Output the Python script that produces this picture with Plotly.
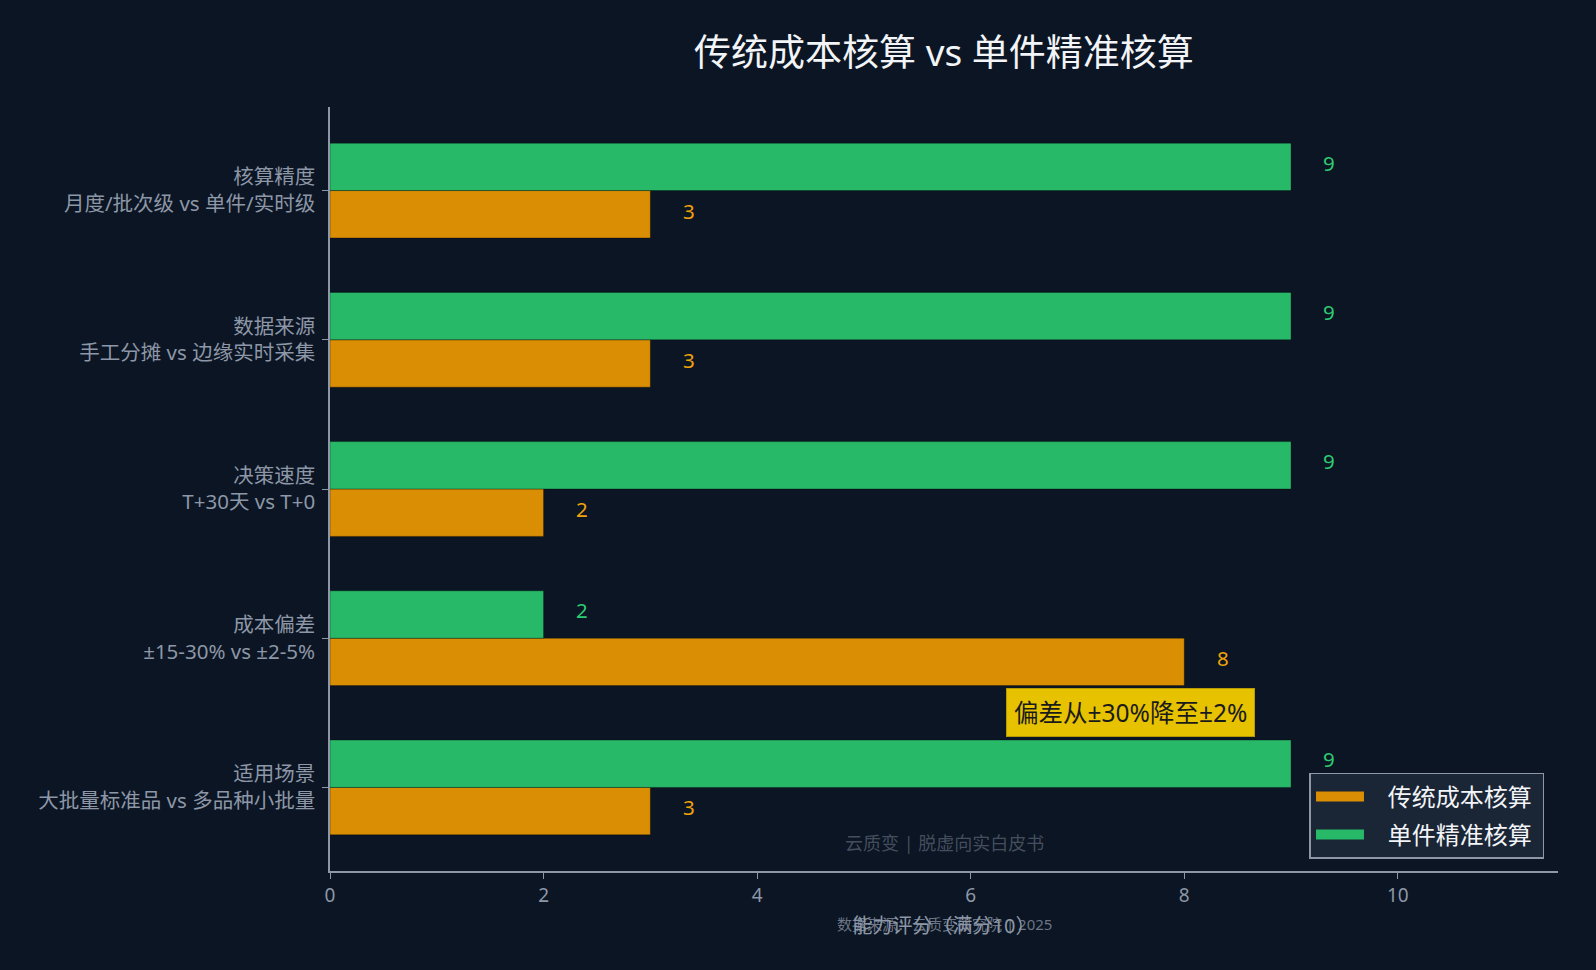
import plotly.graph_objects as go

# categories, top to bottom as shown
dims = ['核算精度', '数据来源', '决策速度', '成本偏差', '适用场景']
subs = ['月度/批次级 vs 单件/实时级', '手工分摊 vs 边缘实时采集', 'T+30天 vs T+0',
        '±15-30% vs ±2-5%', '大批量标准品 vs 多品种小批量']
traditional = [3, 3, 2, 8, 3]
precise = [9, 9, 9, 2, 9]

labels = [f'{d}<br>{s}' for d, s in zip(dims, subs)]

bg = '#0b1523'
c_trad = '#d98e04'
c_prec = '#27b868'
c_trad_txt = '#f0a30a'
c_prec_txt = '#2ecc71'
grey = '#8d97a7'
font = 'Noto Sans, Noto Sans CJK SC'

fig = go.Figure()
fig.add_trace(go.Bar(y=labels, x=traditional, orientation='h', name='传统成本核算', showlegend=False,
                     marker=dict(color=c_trad, line=dict(color='rgba(0,0,0,0.3)', width=1))))
fig.add_trace(go.Bar(y=labels, x=precise, orientation='h', name='单件精准核算', showlegend=False,
                     marker=dict(color=c_prec, line=dict(color='rgba(0,0,0,0.3)', width=1))))

# legend entries with wide swatches
for i, (name, col) in enumerate([('传统成本核算', c_trad), ('单件精准核算', c_prec)]):
    fig.add_trace(go.Scatter(x=[None], y=[None], mode='lines',
                             name='\u00a0\u00a0\u00a0' + name + '\u00a0',
                             legendgroup=f'g{i}', line=dict(color=col, width=18)))

# value labels beside bars
for lab, v in zip(labels, traditional):
    fig.add_annotation(x=v + 0.36, y=lab, yshift=-20, text=str(v), showarrow=False,
                       font=dict(size=20.5, color=c_trad_txt, family=font))
for lab, v in zip(labels, precise):
    fig.add_annotation(x=v + 0.36, y=lab, yshift=28, text=str(v), showarrow=False,
                       font=dict(size=20.5, color=c_prec_txt, family=font))

# callout between 成本偏差 and 适用场景
fig.add_annotation(x=7.5, y=0.5, text='偏差从±30%降至±2%', showarrow=False,
                   font=dict(size=24.5, color='#1a1a1a', family=font),
                   bgcolor='#e6c200', bordercolor='#b89a00', borderwidth=1, borderpad=7)

# watermark
fig.add_annotation(x=0.5, y=0.037, xref='paper', yref='paper', yanchor='middle',
                   text='云质变 | 脱虚向实白皮书', showarrow=False,
                   font=dict(size=18, color='rgba(141,151,167,0.45)', family=font))
# source note
fig.add_annotation(x=0.5, y=-0.069, xref='paper', yref='paper', yanchor='middle',
                   text='数据来源：云质变研究院 | 2025', showarrow=False,
                   font=dict(size=15, color='rgba(141,151,167,0.75)', family=font))

fig.update_layout(
    width=1596, height=970,
    paper_bgcolor=bg, plot_bgcolor=bg,
    barmode='group', bargap=0.365, bargroupgap=0,
    margin=dict(l=330, r=38, t=107, b=99),
    font=dict(family=font, color=grey, size=18),
    title=dict(text='传统成本核算 vs 单件精准核算', x=0.5, xref='paper', xanchor='center',
               y=0.945, yanchor='middle', font=dict(size=37, color='#f2f4f7', family=font)),
    legend=dict(x=0.989, y=0.016, xanchor='right', yanchor='bottom', itemwidth=48,
                bgcolor='#1a2535', bordercolor=grey, borderwidth=1.5, tracegroupgap=4,
                font=dict(size=24, color='#f2f4f7', family=font)),
)
fig.update_xaxes(range=[0, 11.5], dtick=2, showgrid=False, zeroline=False,
                 showline=True, linecolor=grey, linewidth=1.5,
                 ticks='outside', ticklen=6, tickcolor=grey,
                 tickfont=dict(size=19, color=grey),
                 title=dict(text='能力评分（满分10）', font=dict(size=20, color=grey), standoff=12))
fig.update_yaxes(categoryorder='array', categoryarray=labels[::-1],
                 range=[-0.56, 4.56], showgrid=False, zeroline=False,
                 showline=True, linecolor=grey, linewidth=1.5,
                 ticks='outside', ticklen=6, tickcolor=grey, ticklabelstandoff=3,
                 tickfont=dict(size=20.5, color=grey))

fig.write_html('out.html', config={'displayModeBar': False})

# drop the page margin so the figure fills the window
with open('out.html', encoding='utf-8') as f:
    page = f.read()
page = page.replace('<head>', '<head><style>body{margin:0;overflow:hidden}</style>', 1)
with open('out.html', 'w', encoding='utf-8') as f:
    f.write(page)
